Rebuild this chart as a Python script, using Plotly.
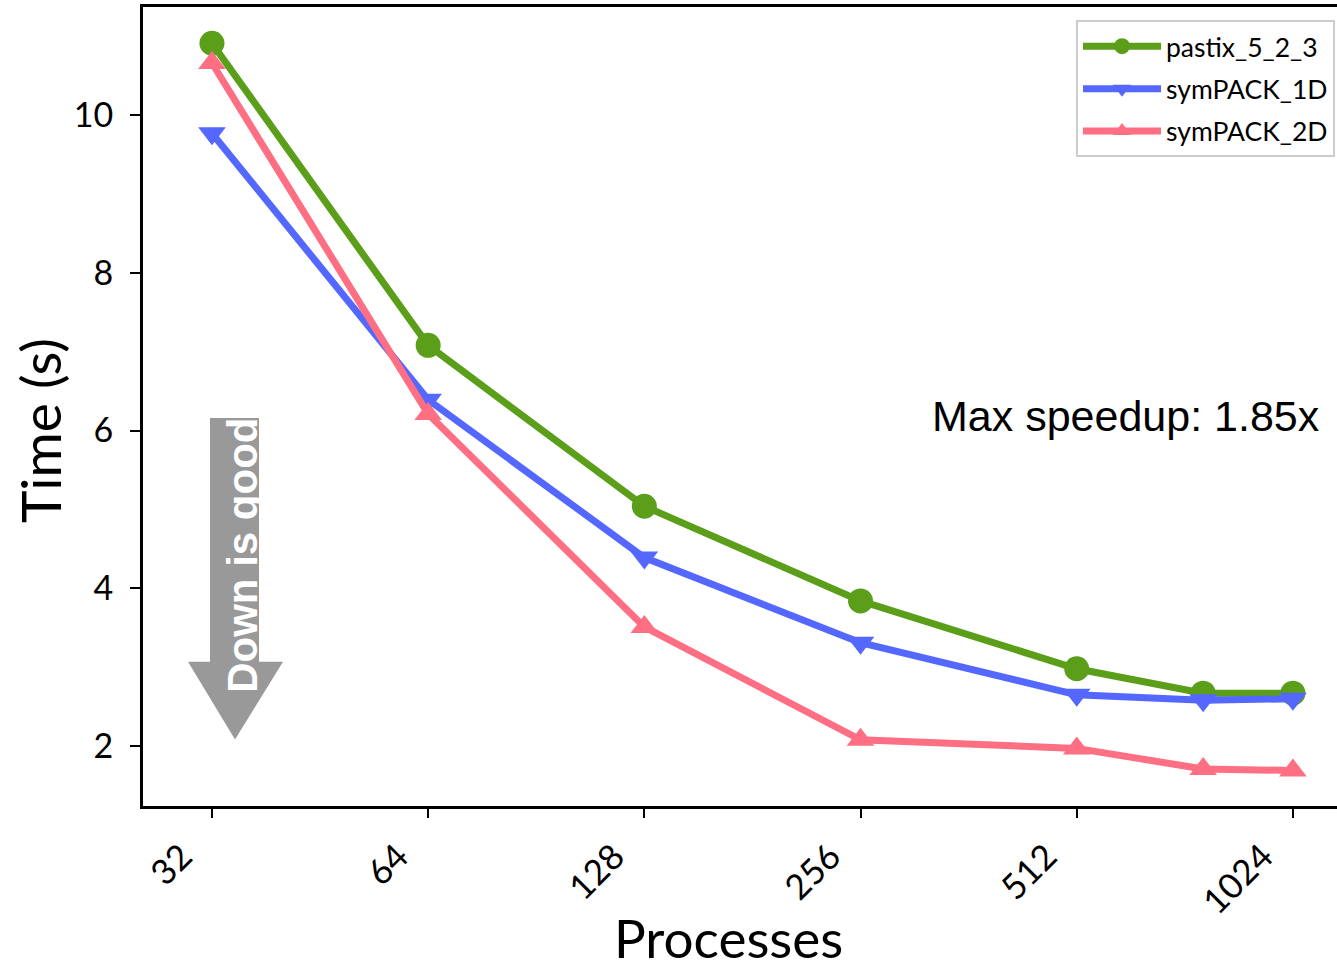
import math
import plotly.graph_objects as go

processes = [32, 64, 128, 256, 512, 768, 1024]
pastix_5_2_3 = [10.91, 7.08, 5.04, 3.84, 2.98, 2.67, 2.67]
sympack_1d = [9.77, 6.39, 4.39, 3.31, 2.65, 2.58, 2.60]
sympack_2d = [10.66, 6.21, 3.51, 2.08, 1.97, 1.71, 1.69]
tick_values = [32, 64, 128, 256, 512, 1024]
tick_labels = ["32", "64", "128", "256", "512", "1024"]

GREEN = "#5A9E1A"
BLUE = "#5468FF"
PINK = "#FF6F83"
FONT = "Lato"

W, H = 1337, 974
ML, MT, MB, MR = 143, 6.5, 167.5, 0
PW = W - ML - MR
PH = H - MT - MB


def px_x(p):
    return (p - ML) / PW


def px_y(p):
    return (H - MB - p) / PH


fig = go.Figure()
fig.add_trace(go.Scatter(x=processes, y=pastix_5_2_3, name="pastix_5_2_3", mode="lines+markers",
                         legendgroup="a",
                         line=dict(color=GREEN, width=7),
                         marker=dict(symbol="circle", size=25, color=GREEN)))
fig.add_trace(go.Scatter(x=processes, y=sympack_1d, name="symPACK_1D", mode="lines+markers",
                         legendgroup="b",
                         line=dict(color=BLUE, width=7),
                         marker=dict(symbol="triangle-down", size=24, color=BLUE)))
fig.add_trace(go.Scatter(x=processes, y=sympack_2d, name="symPACK_2D", mode="lines+markers",
                         legendgroup="c",
                         line=dict(color=PINK, width=7),
                         marker=dict(symbol="triangle-up", size=24, color=PINK)))

# "Down is good" arrow (pixel geometry converted to paper coordinates)
path = ("M {a},{t} L {b},{t} L {b},{h} L {c},{h} L {m},{tip} L {d},{h} L {a},{h} Z"
        .format(a=px_x(210), b=px_x(259), t=px_y(418), h=px_y(662),
                c=px_x(283), m=px_x(235), tip=px_y(740), d=px_x(188)))
fig.add_shape(type="path", path=path, xref="paper", yref="paper",
              fillcolor="#999999", line=dict(width=0), layer="above")

fig.add_annotation(x=px_x(243), y=px_y(556), xref="paper", yref="paper",
                   xanchor="center", yanchor="middle",
                   text="<b>Down is good</b>", textangle=-90, showarrow=False,
                   font=dict(family="Liberation Sans, Arial", size=42, color="white"))

fig.add_annotation(x=px_x(1126), y=px_y(416), xref="paper", yref="paper",
                   xanchor="center", yanchor="middle",
                   text="Max speedup: 1.85x", showarrow=False,
                   font=dict(family="Liberation Sans, Arial", size=43, color="black"))

fig.add_annotation(x=px_x(40), y=px_y(431), xref="paper", yref="paper",
                   xanchor="center", yanchor="middle",
                   text="Time (s)", textangle=-90, showarrow=False,
                   font=dict(family=FONT, size=55, color="black"))

fig.add_annotation(x=px_x(728), y=px_y(938), xref="paper", yref="paper",
                   xanchor="center", yanchor="middle",
                   text="Processes", showarrow=False,
                   font=dict(family=FONT, size=53, color="black"))

fig.update_layout(
    width=W, height=H,
    margin=dict(l=ML, r=MR, t=MT, b=MB),
    plot_bgcolor="white", paper_bgcolor="white",
    font=dict(family=FONT, color="black"),
    showlegend=True,
    legend=dict(x=px_x(1335), y=px_y(20), xanchor="right", yanchor="top",
                bgcolor="white", bordercolor="#CCCCCC", borderwidth=2,
                font=dict(family=FONT, size=26.5, color="black"),
                itemwidth=78, tracegroupgap=5),
    xaxis=dict(type="log",
               range=[math.log10(2) * 4.681, math.log10(2) * 10.204],
               tickmode="array", tickvals=tick_values, ticktext=tick_labels,
               tickangle=-45, tickfont=dict(family=FONT, size=35),
               ticklabelshift=-30, ticklabelstandoff=4,
               ticks="outside", ticklen=9, tickwidth=1.5, tickcolor="black",
               showline=True, linecolor="black", linewidth=3, mirror=True,
               showgrid=False, zeroline=False),
    yaxis=dict(range=[1.24, 11.37],
               tickvals=[2, 4, 6, 8, 10],
               tickfont=dict(family=FONT, size=34),
               ticklabelstandoff=10,
               ticks="outside", ticklen=10, tickwidth=1.5, tickcolor="black",
               showline=True, linecolor="black", linewidth=3, mirror=False,
               showgrid=False, zeroline=False),
)

fig.write_html("out.html", config={"displayModeBar": False},
               post_script="document.body.style.margin='0';document.body.style.overflow='hidden';")
